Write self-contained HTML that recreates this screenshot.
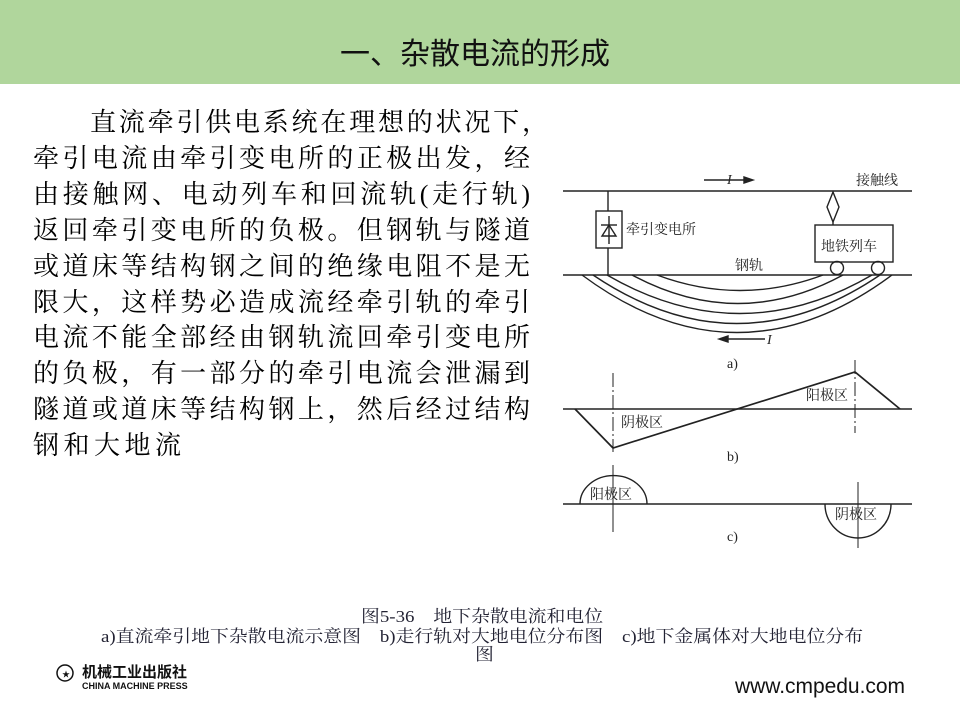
<!DOCTYPE html>
<html><head><meta charset="utf-8"><style>
body{margin:0;width:960px;height:718px;background:#fff;position:relative;overflow:hidden;font-family:"Liberation Sans","Noto Sans CJK SC",sans-serif}
.hdr{position:absolute;left:0;top:0;width:960px;height:84px;background:#b0d69c}
.title{position:absolute;left:0;width:960px;top:29px;text-align:center;font-size:30px;color:#111;text-indent:-10px}
.ln{position:absolute;left:33px;width:497px;font-size:26px;height:36px;line-height:36px;color:#000;text-align:justify;text-align-last:justify;font-family:"Liberation Serif","Noto Serif CJK SC",serif;white-space:nowrap}
.cap{position:absolute;font-size:17px;color:#223;white-space:nowrap;font-family:"Liberation Serif","Noto Serif CJK SC",serif;transform-origin:0 0;transform:scaleX(1.11)}
svg text{font-family:"Liberation Serif","Noto Serif CJK SC",serif}
</style></head><body>
<div class="hdr"></div>
<div class="title">一、杂散电流的形成</div>
<div class="ln" style="top:105px;left:90px;width:458px">直流牵引供电系统在理想的状况下，</div>
<div class="ln" style="top:141px">牵引电流由牵引变电所的正极出发，经</div>
<div class="ln" style="top:177px">由接触网、电动列车和回流轨(走行轨)</div>
<div class="ln" style="top:213px">返回牵引变电所的负极。但钢轨与隧道</div>
<div class="ln" style="top:249px">或道床等结构钢之间的绝缘电阻不是无</div>
<div class="ln" style="top:285px">限大，这样势必造成流经牵引轨的牵引</div>
<div class="ln" style="top:320px">电流不能全部经由钢轨流回牵引变电所</div>
<div class="ln" style="top:356px">的负极，有一部分的牵引电流会泄漏到</div>
<div class="ln" style="top:392px">隧道或道床等结构钢上，然后经过结构</div>
<div class="ln" style="top:428px;width:148px">钢和大地流</div>

<svg style="position:absolute;left:0;top:0" width="960" height="718">
<g stroke="#222" fill="none" stroke-width="1.4">
<line x1="563" y1="191" x2="912" y2="191"/>
<line x1="563" y1="275" x2="912" y2="275"/>
<line x1="704" y1="180" x2="750" y2="180"/>
<polygon points="753,180 744,177 744,183" fill="#222"/>
<line x1="608" y1="191" x2="608" y2="275"/>
<rect x="596" y="211" width="26" height="37" fill="#fff"/>
<line x1="601" y1="225" x2="617" y2="225"/>
<polygon points="609,225 602,236 616,236"/>
<line x1="609" y1="216" x2="609" y2="244"/>
<polygon points="833,192 839,207 833,222 827,207"/>
<line x1="833" y1="222" x2="833" y2="225"/>
<rect x="815" y="225" width="78" height="37"/>
<circle cx="837" cy="268" r="6.5"/>
<circle cx="878" cy="268" r="6.5"/>
<path d="M582,275 Q737,390 892,275"/>
<path d="M593,275 Q737,372 880,275"/>
<path d="M607,275 Q740,352 872,275"/>
<path d="M632,275 Q738,332 843,275"/>
<path d="M657,275 Q740,306 823,275"/>
<line x1="724" y1="339" x2="765" y2="339"/>
<polygon points="719,339 728,336 728,342" fill="#222"/>
<line x1="563" y1="409" x2="912" y2="409"/>
<line x1="613" y1="373" x2="613" y2="452" stroke-dasharray="14,3,2,3" stroke-width="1"/>
<line x1="855" y1="360" x2="855" y2="433" stroke-dasharray="14,3,2,3" stroke-width="1"/>
<polyline points="575,409 613,448 855,372 900,409" stroke-width="1.7"/>
<line x1="563" y1="504" x2="912" y2="504"/>
<line x1="613" y1="465" x2="613" y2="532" stroke-width="1"/>
<line x1="858" y1="482" x2="858" y2="548" stroke-width="1"/>
<path d="M580,504 A33,28 0 0 1 647,504"/>
<path d="M825,504 A33,34 0 0 0 891,504"/>
</g>
<g font-size="14" fill="#222">
<text x="727" y="184" font-style="italic">I</text>
<text x="767" y="344" font-style="italic">I</text>
<text x="856" y="185">接触线</text>
<text x="626" y="234">牵引变电所</text>
<text x="821" y="251">地铁列车</text>
<text x="735" y="270">钢轨</text>
<text x="727" y="368">a)</text>
<text x="621" y="427">阴极区</text>
<text x="806" y="400">阳极区</text>
<text x="727" y="461">b)</text>
<text x="590" y="499">阳极区</text>
<text x="835" y="519">阴极区</text>
<text x="727" y="541">c)</text>
</g>
<g>
<circle cx="65" cy="673" r="8" fill="none" stroke="#111" stroke-width="1.5"/>
<text x="62" y="677" font-size="8" fill="#111">★</text>
<text x="82" y="677" font-size="15" font-weight="bold" fill="#111" style="font-family:'Noto Sans CJK SC',sans-serif">机械工业出版社</text>
<text x="82" y="689" font-size="9" font-weight="bold" fill="#111" style="font-family:'Liberation Sans',sans-serif">CHINA MACHINE PRESS</text>
<text x="735" y="693" font-size="21" fill="#111" style="font-family:'Liberation Sans',sans-serif" textLength="170">www.cmpedu.com</text>
</g>
</svg>
<div class="cap" style="left:361px;top:602px">图5-36　地下杂散电流和电位</div>
<div class="cap" style="left:101px;top:622px">a)直流牵引地下杂散电流示意图　b)走行轨对大地电位分布图　c)地下金属体对大地电位分布</div>
<div class="cap" style="left:475px;top:640px">图</div>
</body></html>
